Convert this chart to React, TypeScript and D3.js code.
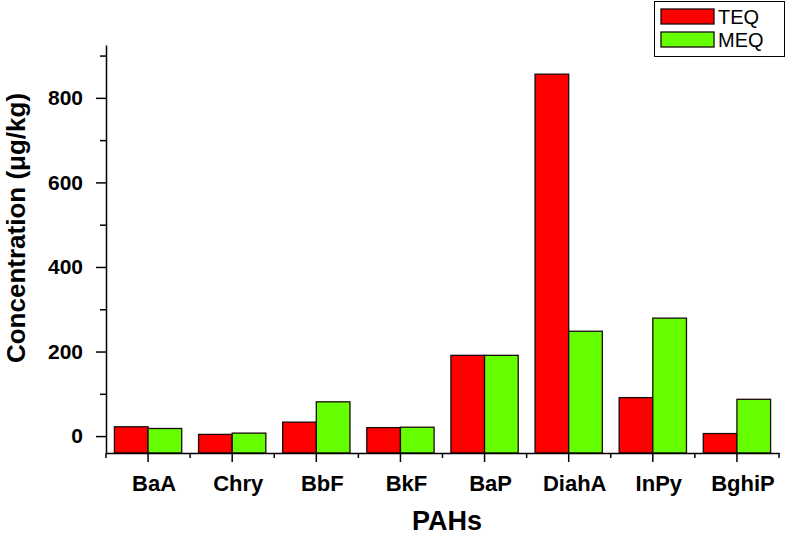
import React, {useEffect, useRef} from 'react'
import * as d3 from 'd3'

const categories = ['BaA', 'Chry', 'BbF', 'BkF', 'BaP', 'DiahA', 'InPy', 'BghiP'];
const seriesNames = ['TEQ', 'MEQ'];
const teqValues = [22, 4, 33, 20, 191, 856, 91, 6];
const meqValues = [18, 7, 81, 21, 191, 248, 279, 87];
const majorTicks = [0, 200, 400, 600, 800];
const minorTicks = [100, 300, 500, 700, 900];
const colors = ['#ff0000', '#66ff00'];

const W = 786, H = 540;
const FONT = '"Liberation Sans", Arial, Helvetica, sans-serif';

const App = () => {
  const ref = useRef(null);

  useEffect(() => {
    const svg = d3.select(ref.current);
    svg.selectAll('*').remove();

    const left = 106, right = 779, top = 45, bottom = 453;

    const x = d3.scaleBand().domain(categories).range([left, right]).padding(0);
    const bw = x.bandwidth();
    const xs = d3.scaleBand().domain(seriesNames).range([bw * 0.1, bw * 0.9]).padding(0);
    const y = d3.scaleLinear().domain([-40, 925]).range([bottom, top]);

    const rows = categories.map((c, i) => ({cat: c, vals: [teqValues[i], meqValues[i]]}));

    // bars
    const g = svg.append('g');
    rows.forEach(r => {
      r.vals.forEach((v, j) => {
        g.append('rect')
          .attr('x', x(r.cat) + xs(seriesNames[j]))
          .attr('y', y(v))
          .attr('width', xs.bandwidth())
          .attr('height', y(-40) - y(v))
          .attr('fill', colors[j])
          .attr('stroke', '#1a0a0a')
          .attr('stroke-width', 1.3);
      });
    });

    // y axis
    const yAxis = svg.append('g')
      .attr('transform', 'translate(' + left + ',0)')
      .call(d3.axisLeft(y).tickValues(majorTicks).tickSize(10).tickSizeOuter(0).tickPadding(13));
    yAxis.select('.domain').attr('stroke-width', 1.5);
    yAxis.selectAll('line').attr('stroke-width', 1.5);
    yAxis.selectAll('text')
      .attr('font-family', FONT).attr('font-size', 21).attr('font-weight', 'bold').attr('fill', '#000');

    svg.append('g')
      .attr('transform', 'translate(' + left + ',0)')
      .call(d3.axisLeft(y).tickValues(minorTicks).tickSize(6).tickFormat(() => ''))
      .call(a => a.select('.domain').remove())
      .selectAll('line').attr('stroke-width', 1.5);

    // x axis
    const xAxis = svg.append('g')
      .attr('transform', 'translate(0,' + bottom + ')')
      .call(d3.axisBottom(x).tickSize(9).tickSizeOuter(0).tickPadding(13));
    xAxis.select('.domain').attr('stroke-width', 1.5);
    xAxis.selectAll('line').attr('stroke-width', 1.5);
    xAxis.selectAll('text')
      .attr('font-family', FONT).attr('font-size', 22).attr('font-weight', 'bold').attr('fill', '#000')
      .attr('dx', 6);

    const bounds = categories.map(c => x(c)).concat([right]);
    svg.append('g')
      .selectAll('line')
      .data(bounds)
      .enter()
      .append('line')
      .attr('x1', d => d).attr('x2', d => d)
      .attr('y1', bottom).attr('y2', bottom + 5)
      .attr('stroke', '#000').attr('stroke-width', 1.5);

    // titles
    svg.append('text')
      .attr('x', 447).attr('y', 530)
      .attr('text-anchor', 'middle')
      .attr('font-family', FONT).attr('font-size', 27).attr('font-weight', 'bold')
      .text('PAHs');

    svg.append('text')
      .attr('transform', 'translate(25,228) rotate(-90)')
      .attr('text-anchor', 'middle')
      .attr('font-family', FONT).attr('font-size', 26).attr('font-weight', 'bold')
      .text('Concentration (μg/kg)');

    // legend
    const lg = svg.append('g');
    lg.append('rect')
      .attr('x', 654.5).attr('y', 1.5).attr('width', 130).attr('height', 55)
      .attr('fill', '#fff').attr('stroke', '#000').attr('stroke-width', 1);
    seriesNames.forEach((s, i) => {
      lg.append('rect')
        .attr('x', 661).attr('y', 9 + i * 23).attr('width', 53).attr('height', 15)
        .attr('fill', colors[i]).attr('stroke', '#1a0a0a').attr('stroke-width', 1.3);
      lg.append('text')
        .attr('x', 718).attr('y', 24 + i * 23)
        .attr('font-family', FONT).attr('font-size', 20)
        .text(s);
    });

    return () => svg.selectAll('*').remove();
  }, []);

  return (
    <svg ref={ref} width={W} height={H} style={{position: 'absolute', left: 0, top: 0, background: '#fff'}}>
    </svg>
  )
};

export default App
